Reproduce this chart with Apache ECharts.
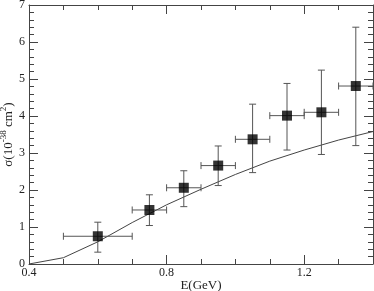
<!DOCTYPE html>
<html><head><meta charset="utf-8">
<script src="https://cdn.jsdelivr.net/npm/echarts@6/dist/echarts.min.js"></script>
<style>html,body{margin:0;padding:0;background:#fff}#c{width:374px;height:291px}</style>
</head><body><div id="c"></div>
<script>
var energy = [0.6, 0.75, 0.85, 0.95, 1.05, 1.15, 1.25, 1.35];
var sigma = [0.75, 1.46, 2.06, 2.66, 3.37, 4.01, 4.10, 4.81];
var energyErr = [0.1, 0.05, 0.05, 0.05, 0.05, 0.05, 0.05, 0.05];
var sigmaLow = [0.32, 1.04, 1.55, 2.12, 2.47, 3.08, 2.96, 3.20];
var sigmaHigh = [1.13, 1.87, 2.52, 3.19, 4.32, 4.88, 5.24, 6.40];
var curveE = [0.4, 0.5, 0.6, 0.7, 0.8, 0.9, 1.0, 1.1, 1.2, 1.3, 1.4];
var curveSigma = [0.0, 0.17, 0.6, 1.12, 1.6, 2.02, 2.42, 2.78, 3.08, 3.35, 3.58];
var xTickLabels = ['0.4', '0.8', '1.2'];

var font = "'Liberation Serif', 'Times New Roman', serif";
var frame = '#444';
function xa(pos, interval, len, labels, showLine) {
  return {
    type: 'value', position: pos, min: 0.4, max: 1.4, interval: interval,
    axisLine: {show: showLine, lineStyle: {color: frame, width: 1}},
    axisTick: {show: true, inside: true, length: len, lineStyle: {color: frame}},
    axisLabel: {show: labels, margin: 3, fontFamily: font, fontSize: 12, color: '#222', showMaxLabel: false,
      formatter: function (v) { var s = v.toFixed(1); return xTickLabels.indexOf(s) >= 0 ? s : ''; }},
    splitLine: {show: false}
  };
}
function ya(pos, labels) {
  return {
    type: 'value', position: pos, min: 0, max: 7, interval: 1,
    axisLine: {show: true, lineStyle: {color: frame, width: 1}},
    axisTick: {show: true, inside: true, length: 9, lineStyle: {color: frame}},
    minorTick: {show: true, splitNumber: 5, length: 5, lineStyle: {color: frame}},
    axisLabel: {show: labels, margin: 4, fontFamily: font, fontSize: 12, color: '#222'},
    splitLine: {show: false}
  };
}
var xAxes = [xa('bottom', 0.4, 9, true, true), xa('bottom', 0.1, 5, false, false),
             xa('top', 0.4, 9, false, true), xa('top', 0.1, 5, false, false)];
xAxes[0].name = 'E(GeV)';
xAxes[0].nameLocation = 'middle';
xAxes[0].nameGap = 15;
xAxes[0].nameMoveOverlap = false;
xAxes[0].nameTextStyle = {fontFamily: font, fontSize: 13, color: '#222'};
var yAxes = [ya('left', true), ya('right', false)];
yAxes[0].name = '{a|σ(10}{s|-38}{a| cm}{s|2}{a|)}';
yAxes[0].nameLocation = 'middle';
yAxes[0].nameGap = 14;
yAxes[0].nameMoveOverlap = false;
yAxes[0].nameTextStyle = {
  fontFamily: font, fontSize: 13, color: '#222',
  rich: {
    a: {fontFamily: font, fontSize: 13, color: '#222', lineHeight: 16, verticalAlign: 'bottom'},
    s: {fontFamily: font, fontSize: 9, color: '#222', lineHeight: 16, verticalAlign: 'top'}
  }
};

var errData = energy.map(function (e, i) {
  return [e, sigma[i], energyErr[i], sigmaLow[i], sigmaHigh[i]];
});

var chart = echarts.init(document.getElementById('c'), null, {renderer: 'canvas'});
chart.setOption({
  animation: false,
  grid: {left: 29, right: 1, top: 5, bottom: 27, containLabel: false, outerBoundsMode: 'none'},
  xAxis: xAxes,
  yAxis: yAxes,
  series: [
    {
      type: 'line', xAxisIndex: 0, yAxisIndex: 0, showSymbol: false, symbol: 'none',
      data: curveE.map(function (e, i) { return [e, curveSigma[i]]; }),
      lineStyle: {color: '#444', width: 1}, z: 2
    },
    {
      type: 'custom', xAxisIndex: 0, yAxisIndex: 0, data: errData, z: 3,
      renderItem: function (params, api) {
        var x = api.value(0), y = api.value(1), dx = api.value(2), lo = api.value(3), hi = api.value(4);
        var pL = api.coord([x - dx, y]), pR = api.coord([x + dx, y]);
        var pB = api.coord([x, lo]), pT = api.coord([x, hi]);
        var c = 3.5;
        var st = {stroke: '#555', lineWidth: 1, fill: null};
        return {type: 'group', children: [
          {type: 'line', shape: {x1: pL[0], y1: pL[1], x2: pR[0], y2: pR[1]}, style: st},
          {type: 'line', shape: {x1: pL[0], y1: pL[1] - c, x2: pL[0], y2: pL[1] + c}, style: st},
          {type: 'line', shape: {x1: pR[0], y1: pR[1] - c, x2: pR[0], y2: pR[1] + c}, style: st},
          {type: 'line', shape: {x1: pB[0], y1: pB[1], x2: pT[0], y2: pT[1]}, style: st},
          {type: 'line', shape: {x1: pB[0] - c, y1: pB[1], x2: pB[0] + c, y2: pB[1]}, style: st},
          {type: 'line', shape: {x1: pT[0] - c, y1: pT[1], x2: pT[0] + c, y2: pT[1]}, style: st}
        ]};
      }
    },
    {
      type: 'scatter', xAxisIndex: 0, yAxisIndex: 0, symbol: 'rect', symbolSize: 10,
      data: energy.map(function (e, i) { return [e, sigma[i]]; }),
      itemStyle: {color: '#000'}, z: 4
    }
  ]
});
</script></body></html>
